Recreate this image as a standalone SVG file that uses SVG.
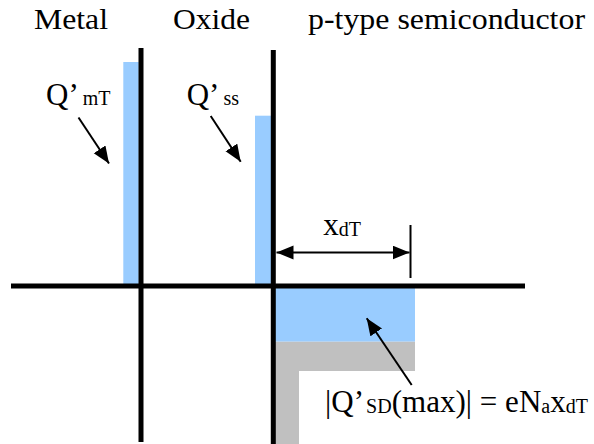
<svg xmlns="http://www.w3.org/2000/svg" width="594" height="444" viewBox="0 0 594 444">
  <style>
    text { font-family: "Liberation Serif", "Times New Roman", Tinos, serif; fill: #000; }
    .h { font-size: 30px; }
    .m { font-size: 31px; }
    .s { font-size: 20px; }
    .axis { stroke: #000; stroke-width: 5; fill: none; }
    .arr { stroke: #000; stroke-width: 2; fill: none; }
    .blue { fill: #99CCFF; }
    .gray { fill: #C0C0C0; }
  </style>
  <defs>
    <marker id="ah" markerUnits="userSpaceOnUse" markerWidth="18" markerHeight="16" refX="17" refY="7" orient="auto-start-reverse">
      <path d="M0,0 L17,7 L0,14 z" fill="#000"/>
    </marker>
  </defs>

  <g id="titles">
    <text class="h" x="34" y="29" textLength="74" lengthAdjust="spacingAndGlyphs">Metal</text>
    <text class="h" x="173" y="29" textLength="77" lengthAdjust="spacingAndGlyphs">Oxide</text>
    <text class="h" x="308" y="29" textLength="277" lengthAdjust="spacingAndGlyphs">p-type semiconductor</text>
  </g>

  <g id="charges">
    <rect id="metal-charge" class="blue" x="123.3" y="62" width="15.5" height="224"/>
    <rect id="oxide-charge" class="blue" x="255" y="115.7" width="16" height="170"/>
    <rect id="depletion-charge" class="blue" x="273" y="286" width="142" height="55.7"/>
    <path id="semiconductor-gray" class="gray" d="M273,341.7 H415 V371 H299 V444 H273 Z"/>
  </g>

  <g id="axes">
    <line class="axis" x1="11" y1="286" x2="525" y2="286"/>
    <line class="axis" x1="141" y1="48" x2="141" y2="442"/>
    <line class="axis" x1="273.3" y1="50" x2="273.3" y2="444"/>
    <line stroke="#000" stroke-width="2" x1="410.5" y1="225" x2="410.5" y2="278"/>
  </g>

  <g id="connectors">
    <line class="arr" x1="78.5" y1="117.5" x2="109" y2="163.5" marker-end="url(#ah)"/>
    <line class="arr" x1="210.7" y1="116" x2="240.7" y2="161.7" marker-end="url(#ah)"/>
    <line class="arr" x1="411.7" y1="385" x2="366.7" y2="318.3" marker-end="url(#ah)"/>
    <line class="arr" x1="276.5" y1="252.5" x2="409.5" y2="252.5" marker-start="url(#ah)" marker-end="url(#ah)"/>
  </g>

  <g id="labels">
    <text id="label-qmt" class="m" x="46" y="105">Q’<tspan class="s" dx="4">mT</tspan></text>
    <text id="label-qss" class="m" x="186.7" y="105">Q’<tspan class="s" dx="4">ss</tspan></text>
    <text id="label-xdt" class="m" x="323.3" y="235">x<tspan class="s" dy="1">dT</tspan></text>
    <text id="label-qsd" class="m" x="325" y="412" textLength="263">|Q’<tspan class="s" dx="2" dy="1">SD</tspan><tspan dy="-1">(max)| = eN</tspan><tspan class="s" dy="1">a</tspan><tspan dy="-1">x</tspan><tspan class="s" dy="1">dT</tspan></text>
  </g>
</svg>
